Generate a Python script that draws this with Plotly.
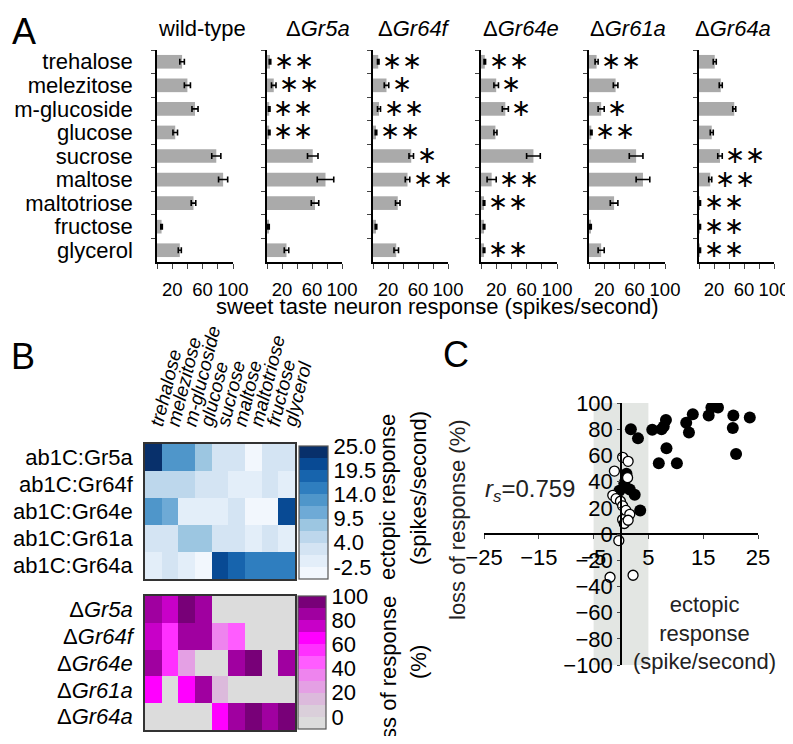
import plotly.graph_objects as go

# the page body adds an 8px margin; keep the figure small enough to avoid scrollbars
OFF = 8
W, H = 793 - 2 * OFF, 744 - 2 * OFF
FONT = "Arial, 'Liberation Sans', sans-serif"


def px(x):
    return (x - OFF) / W


def py(y):
    return 1 - (y - OFF) / H


# ---- panel A data: sweet taste neuron response (spikes/second) ----
sugars = ['trehalose', 'melezitose', 'm-glucoside', 'glucose', 'sucrose',
          'maltose', 'maltotriose', 'fructose', 'glycerol']
genotype_titles = ['wild-type', 'Δ<i>Gr5a</i>', 'Δ<i>Gr64f</i>',
                   'Δ<i>Gr64e</i>', 'Δ<i>Gr61a</i>', 'Δ<i>Gr64a</i>']

wt = [33, 40, 50, 24, 78, 87, 48, 6, 30]
wt_err = [3, 4, 4, 3, 6, 6, 3, 1, 2]
wt_sig = ['', '', '', '', '', '', '', '', '']
gr5a = [4, 9, 3, 3, 61, 78, 64, 2, 26]
gr5a_err = [1, 3, 1, 1, 7, 11, 5, 1, 3]
gr5a_sig = ['**', '**', '**', '**', '', '', '', '', '']
gr64f = [7, 18, 8, 4, 51, 46, 33, 4, 31]
gr64f_err = [1, 3, 2, 1, 3, 3, 3, 1, 3]
gr64f_sig = ['**', '*', '**', '**', '*', '**', '', '', '']
gr64e = [5, 20, 32, 19, 69, 14, 4, 4, 4]
gr64e_err = [1, 3, 4, 2, 9, 6, 1, 1, 1]
gr64e_sig = ['**', '*', '*', '', '', '**', '**', '', '**']
gr61a = [10, 35, 16, 3, 62, 71, 33, 2, 16]
gr61a_err = [2, 3, 4, 1, 9, 9, 5, 1, 4]
gr61a_sig = ['**', '', '*', '**', '', '', '', '', '']
gr64a = [21, 29, 47, 17, 28, 15, 1, 1, 1]
gr64a_err = [2, 2, 2, 2, 3, 2, 1, 1, 1]
gr64a_sig = ['', '', '', '', '**', '**', '**', '**', '**']

# ---- panel B data ----
ectopic_rows = ['ab1C:Gr5a', 'ab1C:Gr64f', 'ab1C:Gr64e', 'ab1C:Gr61a', 'ab1C:Gr64a']
ect_gr5a = [23.5, 13, 14, 9, 3, 3, -1, 3, 3]
ect_gr64f = [6, 6.5, 7, 3, 3.5, 2, 2, 4, 1]
ect_gr64e = [12.5, 11, 0.5, 1, 0, 4, -1, -1, 20.5]
ect_gr61a = [4, 4, 8, 8, 3, 3, 0.5, 3, 2]
ect_gr64a = [2, 3.5, 1, -0.5, 20, 19.5, 17, 16, 16.5]

loss_rows = ['Δ<i>Gr5a</i>', 'Δ<i>Gr64f</i>', 'Δ<i>Gr64e</i>', 'Δ<i>Gr61a</i>', 'Δ<i>Gr64a</i>']
loss_gr5a = [88, 77, 94, 87, None, None, None, None, None]
loss_gr64f = [79, 55, 84, 83, 35, 47, None, None, None]
loss_gr64e = [85, 50, 28, None, None, 84, 92, None, 87]
loss_gr61a = [68, None, 67, 87, 18, None, None, None, None]
loss_gr64a = [None, None, None, None, 64, 83, 98, 83, 97]

ect_ticks = [25, 20, 15, 10, 5, 0]
ect_ticktext = ['25.0', '19.5', '14.0', '9.5', '4.0', '-2.5']
loss_ticks = [100, 80, 60, 40, 20, 0]

# ---- panel C data: (ectopic response, loss of response) ----
sig_x = [1.8, 3.1, 5.7, 7.4, 8.2, 7.8, 8.3, 6.9, 10.2, 11.9, 12.4, 13.1, 16.0,
         16.5, 17.7, 20.5, 20.4, 21.0, 1.0, 0.6, -0.3, 1.6, 2.5, 3.5, 23.5]
sig_y = [80, 73, 79.5, 80, 87, 82, 65.5, 54, 54, 85, 77.5, 91.5, 90.5,
         96.5, 96.5, 90.5, 81, 61, 46, 38.5, 33, 34, 30, 18, 89]
ns_x = [0.3, 1.3, -1.2, 1.2, -1.5, -0.9, -0.1, 0.3, 0.9, 1.6, 0.3, 0.6, 1.3,
        -0.4, -2.0, 2.2]
ns_y = [58.5, 55.5, 48, 43, 29.5, 27, 25, 21.5, 18, 15, 11, 8, 10.5,
        -5, -33, -31.5]
rs_text = '<i>r</i><sub><i>s</i></sub>=0.759'

fig = go.Figure()
annotations = []


def label(x, y, text, size=22, color='black', angle=0):
    annotations.append(dict(x=px(x), y=py(y), xref='paper', yref='paper', text=text,
                            showarrow=False, xanchor='center', yanchor='middle',
                            textangle=angle, font=dict(size=size, color=color)))


# ---------------- panel A ----------------
series = [(wt, wt_err, wt_sig), (gr5a, gr5a_err, gr5a_sig), (gr64f, gr64f_err, gr64f_sig),
          (gr64e, gr64e_err, gr64e_sig), (gr61a, gr61a_err, gr61a_sig),
          (gr64a, gr64a_err, gr64a_sig)]
a_x = [(157, 233), (267, 342), (373, 448), (481, 557), (589, 665), (699, 774)]
title_x = [202, 318, 414, 521, 628, 733]
for i, (vals, errs, sig) in enumerate(series):
    n = i + 1
    xa = 'x' if n == 1 else 'x%d' % n
    ya = 'y' if n == 1 else 'y%d' % n
    fig.add_trace(go.Bar(
        x=vals, y=sugars, orientation='h', xaxis=xa, yaxis=ya, width=0.58,
        marker=dict(color='#aaaaaa', line=dict(width=0)),
        error_x=dict(type='data', array=errs, color='black', thickness=1.6, width=3),
    ))
    for s, v, e, star in zip(sugars, vals, errs, sig):
        if star:
            annotations.append(dict(
                x=v + e, y=s, xref=xa, yref=ya, text='∗' * len(star), showarrow=False,
                xanchor='left', yanchor='middle', xshift=1, yshift=1,
                font=dict(size=24, family='DejaVu Sans', color='black')))
    key = 'xaxis' if n == 1 else 'xaxis%d' % n
    ykey = 'yaxis' if n == 1 else 'yaxis%d' % n
    fig.layout[key] = dict(
        domain=[px(a_x[i][0]), px(a_x[i][1])], anchor=ya, range=[0, 100],
        tickmode='array', tickvals=[0, 20, 40, 60, 80, 100],
        ticktext=['', '20', '', '60', '', '100'], tickangle=0,
        ticks='outside', ticklen=5, tickwidth=1.3, showline=True, linecolor='black',
        linewidth=1.5, showgrid=False, zeroline=False, tickfont=dict(size=18.5),
        ticklabelstandoff=5, ticklabeloverflow='allow', automargin=False)
    fig.layout[ykey] = dict(
        domain=[py(262), py(50)], anchor=xa, type='category',
        categoryorder='array', categoryarray=sugars, range=[8.5, -0.5],
        tickmode='array', tickvals=sugars, ticktext=sugars,
        tickson='boundaries', ticks='outside', ticklen=4, tickwidth=1.3,
        showline=True, linecolor='black', linewidth=1.5, showgrid=False,
        zeroline=False, showticklabels=(n == 1), tickfont=dict(size=22),
        ticklabelstandoff=18, ticklabeloverflow='allow', automargin=False)
    label(title_x[i], 28, genotype_titles[i])

label(437, 306, 'sweet taste neuron response (spikes/second)')


# ---------------- panel B ----------------
def stepped(colors):
    n = len(colors)
    out = []
    for i, c in enumerate(colors):
        out += [[i / n, c], [(i + 1) / n, c]]
    return out


blues = ['#f2f7fd', '#e3eef9', '#d4e4f3', '#bdd7ec', '#9cc6e1', '#6eaad6',
         '#4f96ca', '#2f7ebf', '#1764ad', '#084a94', '#08306b']
magentas = ['#dcdcdc', '#dacfda', '#dcbadc', '#e4a0e4', '#ee84ee', '#ff5cff',
            '#ff30ff', '#ff00ff', '#c800c8', '#a000a0', '#780078']

fig.add_trace(go.Heatmap(
    z=[ect_gr5a, ect_gr64f, ect_gr64e, ect_gr61a, ect_gr64a], x=sugars, y=ectopic_rows,
    xaxis='x7', yaxis='y7', zmin=-2.5, zmax=25, colorscale=stepped(blues),
    colorbar=dict(x=px(299), xanchor='left', xpad=0, y=py(512.5), yanchor='middle',
                  len=133, lenmode='pixels', thickness=29, ypad=0,
                  outlinewidth=1.2, outlinecolor='#555', tickvals=ect_ticks,
                  ticktext=ect_ticktext, ticks='', tickfont=dict(size=22))))
fig.add_trace(go.Heatmap(
    z=[loss_gr5a, loss_gr64f, loss_gr64e, loss_gr61a, loss_gr64a], x=sugars, y=loss_rows,
    xaxis='x8', yaxis='y8', zmin=-10, zmax=100, colorscale=stepped(magentas),
    colorbar=dict(x=px(298), xanchor='left', xpad=0, y=py(662.5), yanchor='middle',
                  len=133, lenmode='pixels', thickness=28, ypad=0,
                  outlinewidth=1.2, outlinecolor='#555', tickvals=loss_ticks,
                  ticks='', tickfont=dict(size=22))))

hm_common = dict(showline=True, mirror=True, linecolor='#333', linewidth=1.6,
                 showgrid=False, zeroline=False, automargin=False,
                 ticklabeloverflow='allow')
fig.layout.xaxis7 = dict(domain=[px(145), px(295)], anchor='y7', side='top',
                         tickmode='array', tickvals=sugars, ticktext=sugars,
                         tickangle=-76, ticks='', tickfont=dict(size=19, style='italic'),
                         ticklabelstandoff=0, **hm_common)
fig.layout.yaxis7 = dict(domain=[py(579), py(444)], anchor='x7', autorange='reversed',
                         tickmode='array', tickvals=ectopic_rows, ticktext=ectopic_rows,
                         ticks='', tickfont=dict(size=22), ticklabelstandoff=6, **hm_common)
fig.layout.xaxis8 = dict(domain=[px(145), px(295)], anchor='y8', showticklabels=False,
                         ticks='', **hm_common)
fig.layout.yaxis8 = dict(domain=[py(730), py(596)], anchor='x8', autorange='reversed',
                         tickmode='array', tickvals=loss_rows, ticktext=loss_rows,
                         ticks='', tickfont=dict(size=22), ticklabelstandoff=6, **hm_common)

shapes = [dict(type='rect', xref='x8 domain', yref='y8 domain', x0=0, x1=1, y0=0, y1=1,
               fillcolor='#dcdcdc', line=dict(width=0), layer='below')]

label(388, 497, 'ectopic response', angle=-90)
label(418, 488, '(spikes/second)', angle=-90)
label(388, 676, 'loss of response', angle=-90)
label(418, 662, '(%)', angle=-90)

# ---------------- panel C ----------------
fig.add_trace(go.Scatter(
    x=sig_x, y=sig_y, mode='markers', xaxis='x9', yaxis='y9',
    marker=dict(size=12, color='black', line=dict(width=0))))
fig.add_trace(go.Scatter(
    x=ns_x, y=ns_y, mode='markers', xaxis='x9', yaxis='y9',
    marker=dict(size=10, color='white', line=dict(width=1.3, color='black'))))

c_x0, c_x1 = 484, 758
c_y0, c_y1 = 403, 665
zero_x = c_x0 + (c_x1 - c_x0) * 25 / 50
zero_y = c_y0 + (c_y1 - c_y0) * 100 / 200
fig.layout.xaxis9 = dict(domain=[px(c_x0), px(c_x1)], anchor='free', position=py(zero_y),
                         range=[-25, 25], tickmode='array', tickvals=[-25, -15, -5, 5, 15, 25],
                         tickangle=0, ticks='outside', ticklen=4, tickwidth=1.3, showline=True,
                         linecolor='black', linewidth=1.5, showgrid=False, zeroline=False,
                         tickfont=dict(size=22), ticklabeloverflow='allow', automargin=False)
fig.layout.yaxis9 = dict(domain=[py(c_y1), py(c_y0)], anchor='free', position=px(zero_x),
                         range=[-100, 100], tickmode='array', tickvals=list(range(-100, 101, 20)),
                         ticks='outside', ticklen=3, tickwidth=1.3, showline=True,
                         linecolor='black', linewidth=1.5, showgrid=False, zeroline=False,
                         tickfont=dict(size=22), ticklabelstandoff=0,
                         ticklabeloverflow='allow', automargin=False)
shapes.append(dict(type='rect', xref='x9', yref='y9', x0=-5, x1=5, y0=-100, y1=100,
                   fillcolor='#e3e6e3', line=dict(width=0), layer='below'))

label(457, 520, 'loss of response (%)', color='#222', angle=-90)
label(704, 633, 'ectopic<br>response<br>(spike/second)', color='#222')
label(530, 490, rs_text, size=24, color='#222')
label(24, 32, 'A', size=36)
label(23, 356, 'B', size=36)
label(456, 354, 'C', size=36)

fig.update_layout(
    template='none',
    width=W, height=H, margin=dict(l=0, r=0, t=0, b=0, autoexpand=False),
    paper_bgcolor='white', plot_bgcolor='white', showlegend=False,
    font=dict(family=FONT, size=22, color='black'),
    annotations=annotations, shapes=shapes, bargap=0.4,
)

fig.write_html("out.html")
